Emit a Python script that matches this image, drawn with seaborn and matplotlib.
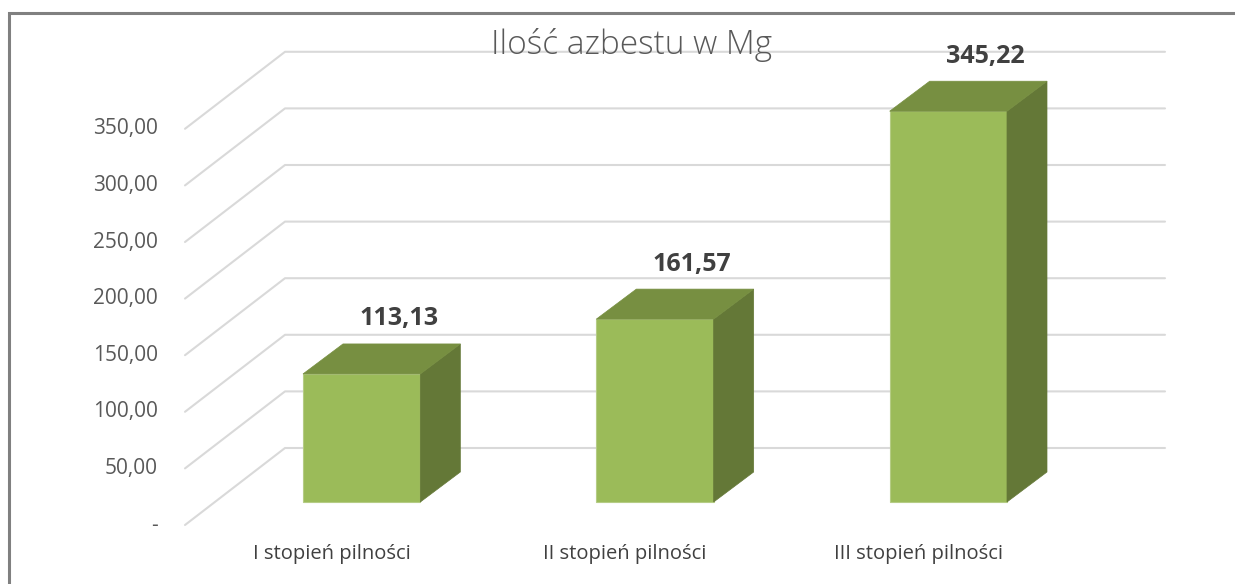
import matplotlib
matplotlib.use("Agg")
import matplotlib.pyplot as plt
from matplotlib.patches import Polygon, Rectangle
import seaborn as sns
import pandas as pd

sns.set_style("white")
plt.rcParams['font.family'] = ['Open Sans', 'DejaVu Sans']

categories = ["I stopień pilności", "II stopień pilności", "III stopień pilności"]
values = [113.13, 161.57, 345.22]
y_ticks = [0, 50, 100, 150, 200, 250, 300, 350]
title = "Ilość azbestu w Mg"

front_c = "#9BBB59"
top_c = "#778F41"
side_c = "#647837"
grid_c = "#D9D9D9"

W, H = 1235, 584
fig = plt.figure(figsize=(W / 100, H / 100), dpi=100)
ax = fig.add_axes([0, 0, 1, 1])

# pixel <-> data scale (bar front plane)
px_cat = 293.33          # pixels per category
px_val = 1.132           # pixels per value unit
x0_px, y0_px = 215, 502  # pixel of category -0.5 / value 0 (from top)


def dx(p):
    return p / px_cat


def dy(p):
    return -p / px_val  # pixels measured downward


df = pd.DataFrame({"cat": categories, "val": values})
sns.barplot(data=df, x="cat", y="val", color=front_c, saturation=1, width=0.40,
            ax=ax, zorder=3, edgecolor="#B5CC85", linewidth=0.8)
ax.set_xlim((0 - x0_px) / px_cat - 0.5, (W - x0_px) / px_cat - 0.5)
ax.set_ylim((y0_px - H) / px_val, y0_px / px_val)
ax.axis("off")

# grid: front plane -> back wall
fx, fy = dx(-30), dy(23)
bx, by = dx(70), dy(-54)
for v in y_ticks:
    ax.plot([-0.5 + fx, -0.5 + bx, 2.5 + bx], [v + fy, v + by, v + by],
            color=grid_c, lw=1.5, zorder=1, clip_on=False)
    lab = "-" if v == 0 else f"{v:.2f}".replace(".", ",")
    ax.text(-0.5 + fx - dx(27), v + fy, lab, ha="right", va="center",
            fontsize=15, color="#595959")

# depth faces of bars
ddx, ddy = dx(40), dy(-30)
for p, v in zip(ax.patches, values):
    x_l, x_r = p.get_x(), p.get_x() + p.get_width()
    h = p.get_height()
    side = Polygon([(x_r, 0), (x_r + ddx, ddy), (x_r + ddx, h + ddy), (x_r, h)],
                   closed=True, facecolor=side_c, edgecolor=side_c, lw=0.5, zorder=3)
    top = Polygon([(x_l, h), (x_l + ddx, h + ddy), (x_r + ddx, h + ddy), (x_r, h)],
                  closed=True, facecolor=top_c, edgecolor=top_c, lw=0.5, zorder=3)
    ax.add_patch(side)
    ax.add_patch(top)
    ax.text(p.get_x() + p.get_width() / 2 + dx(37), h + dy(-55),
            f"{v:.2f}".replace(".", ","), ha="center", va="center",
            fontsize=18, fontweight="bold", color="#404040")

for i, c in enumerate(categories):
    ax.text(i + fx, dy(52), c, ha="center", va="center", fontsize=14.5, color="#404040")

fig.text(632 / W, 1 - 45 / H, title, ha="center", va="center",
         fontsize=24, color="#595959", fontweight="light")

fig.patches.append(Rectangle((9 / W, -0.05), 1.1, 1 - 13 / H + 0.05,
                             transform=fig.transFigure, fill=False,
                             edgecolor="#808080", lw=2.2, zorder=10))

fig.savefig("out.png", dpi=100)
